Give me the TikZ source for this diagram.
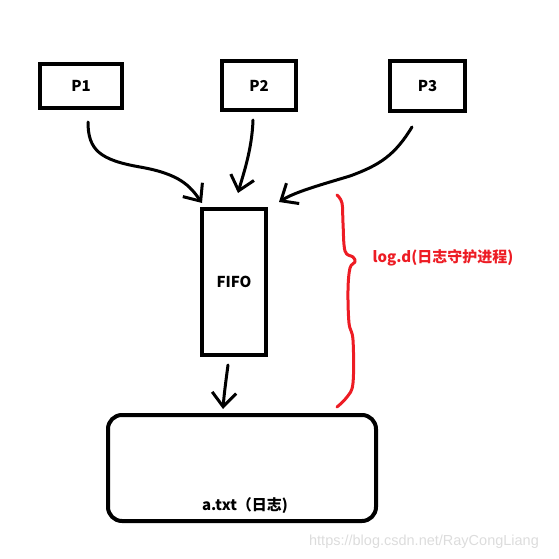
\documentclass[tikz,border=0pt]{standalone}
\usepackage{fontspec}
\setmainfont{Noto Sans CJK SC}
\newfontfamily\markfont{Liberation Sans}
\usetikzlibrary{arrows.meta}
\definecolor{penred}{RGB}{237,28,36}
\definecolor{markgray}{RGB}{220,220,220}

\begin{document}
\begin{tikzpicture}[
		x=1pt,y=-1pt,
		proc/.style={draw,line width=4pt,inner sep=0pt,font=\bfseries\fontsize{15}{18}\selectfont},
		hand/.style={line width=3pt,line cap=round,-{Straight Barb[length=14pt,width=24pt]}}
	]
	\useasboundingbox (0,0) rectangle (559,559);

	% writers
	\node[proc,minimum width=82pt,minimum height=44pt] (p1) at (81,86) {P1};
	\node[proc,minimum width=74pt,minimum height=49pt] (p2) at (259,85.5) {P2};
	\node[proc,minimum width=75pt,minimum height=50pt] (p3) at (427.5,86) {P3};

	% pipe and log file
	\node[proc,minimum width=64pt,minimum height=146pt] (fifo) at (234,282) {FIFO};
	\node[proc,rounded corners=14pt,minimum width=268pt,minimum height=106pt] (log) at (242,468) {};
	\node[font=\bfseries\fontsize{15}{18}\selectfont] (logname) at (245,506) {a.txt（日志)};

	\draw[hand] ([shift={(7,12)}]p1.south) .. controls (88,150) and (100,160) .. (140,167)
		.. controls (180,174) and (190,186) .. ([shift={(2,-4)}]fifo.north west);
	\draw[hand] ([shift={(-6,8)}]p2.south) .. controls (252,150) and (243,175) .. ([shift={(4,-14)}]fifo.north);
	\draw[hand] ([shift={(-15.5,14)}]p3.south) .. controls (395,155) and (380,165) .. (350,176)
		.. controls (320,185) and (295,192) .. ([shift={(11,-5)}]fifo.north east);
	\draw[hand] ([shift={(-6,8)}]fifo.south) .. controls (226,380) and (224,395) .. ([shift={(-19,-4)}]log.north);

	% daemon brace
	\draw[penred,line width=3pt,line cap=round,line join=round] plot[smooth,tension=0.6] coordinates {
		(337,195) (342,203) (343,223) (345,251) (353,257) (355,262) (350,268)
		(348,290) (349,323) (353,340) (353,383) (347,397) (337,407)};
	\node[anchor=west,text=penred,font=\bfseries\fontsize{15}{18}\selectfont] (daemon) at (369,258) {log.d(日志守护进程)};

	\node[text=markgray,font=\markfont\fontsize{14.5}{17}\selectfont] (mark) at (424,542) {https://blog.csdn.net/RayCongLiang};
\end{tikzpicture}
\end{document}
